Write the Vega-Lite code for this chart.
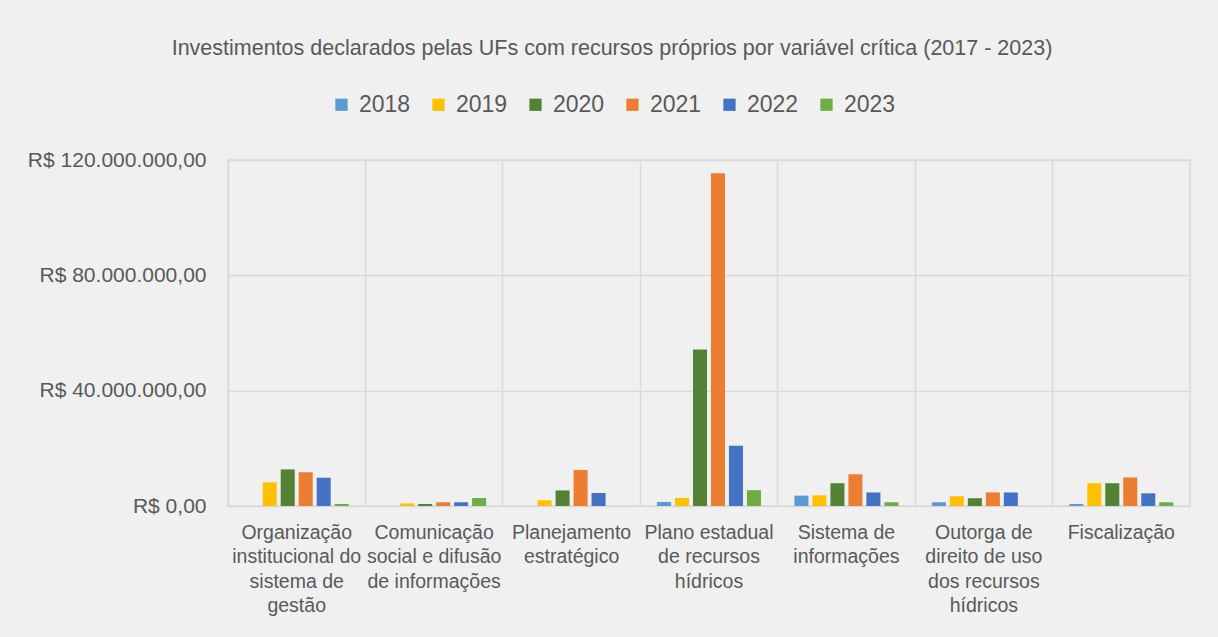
{
  "$schema": "https://vega.github.io/schema/vega-lite/v6.json",
  "autosize": "none",
  "width": 962,
  "height": 346,
  "padding": {"left": 228, "top": 160, "right": 28, "bottom": 131},
  "background": "#f0f0f0",
  "title": {
    "text": "Investimentos declarados pelas UFs com recursos próprios por variável crítica (2017 - 2023)",
    "font": "Liberation Sans",
    "fontSize": 21.5,
    "fontWeight": "normal",
    "color": "#595959",
    "anchor": "middle",
    "dx": -97,
    "offset": 34
  },
  "config": {
    "locale": {
      "number": {"decimal": ",", "thousands": ".", "grouping": [3], "currency": ["R$ ", ""]}
    },
    "view": {"stroke": "#d9d9d9", "strokeWidth": 1.5},
    "font": "Liberation Sans"
  },
  "data": {
    "values": [
      {"categoria": "Organização institucional do sistema de gestão", "ano": "2018", "valor": 0},
      {"categoria": "Organização institucional do sistema de gestão", "ano": "2019", "valor": 8200000},
      {"categoria": "Organização institucional do sistema de gestão", "ano": "2020", "valor": 12700000},
      {"categoria": "Organização institucional do sistema de gestão", "ano": "2021", "valor": 11700000},
      {"categoria": "Organização institucional do sistema de gestão", "ano": "2022", "valor": 9800000},
      {"categoria": "Organização institucional do sistema de gestão", "ano": "2023", "valor": 700000},
      {"categoria": "Comunicação social e difusão de informações", "ano": "2018", "valor": 0},
      {"categoria": "Comunicação social e difusão de informações", "ano": "2019", "valor": 900000},
      {"categoria": "Comunicação social e difusão de informações", "ano": "2020", "valor": 700000},
      {"categoria": "Comunicação social e difusão de informações", "ano": "2021", "valor": 1300000},
      {"categoria": "Comunicação social e difusão de informações", "ano": "2022", "valor": 1300000},
      {"categoria": "Comunicação social e difusão de informações", "ano": "2023", "valor": 2800000},
      {"categoria": "Planejamento estratégico", "ano": "2018", "valor": 0},
      {"categoria": "Planejamento estratégico", "ano": "2019", "valor": 2000000},
      {"categoria": "Planejamento estratégico", "ano": "2020", "valor": 5400000},
      {"categoria": "Planejamento estratégico", "ano": "2021", "valor": 12500000},
      {"categoria": "Planejamento estratégico", "ano": "2022", "valor": 4500000},
      {"categoria": "Planejamento estratégico", "ano": "2023", "valor": 0},
      {"categoria": "Plano estadual de recursos hídricos", "ano": "2018", "valor": 1400000},
      {"categoria": "Plano estadual de recursos hídricos", "ano": "2019", "valor": 2800000},
      {"categoria": "Plano estadual de recursos hídricos", "ano": "2020", "valor": 54300000},
      {"categoria": "Plano estadual de recursos hídricos", "ano": "2021", "valor": 115400000},
      {"categoria": "Plano estadual de recursos hídricos", "ano": "2022", "valor": 20900000},
      {"categoria": "Plano estadual de recursos hídricos", "ano": "2023", "valor": 5500000},
      {"categoria": "Sistema de informações", "ano": "2018", "valor": 3600000},
      {"categoria": "Sistema de informações", "ano": "2019", "valor": 3700000},
      {"categoria": "Sistema de informações", "ano": "2020", "valor": 7900000},
      {"categoria": "Sistema de informações", "ano": "2021", "valor": 11000000},
      {"categoria": "Sistema de informações", "ano": "2022", "valor": 4700000},
      {"categoria": "Sistema de informações", "ano": "2023", "valor": 1300000},
      {"categoria": "Outorga de direito de uso dos recursos hídricos", "ano": "2018", "valor": 1300000},
      {"categoria": "Outorga de direito de uso dos recursos hídricos", "ano": "2019", "valor": 3400000},
      {"categoria": "Outorga de direito de uso dos recursos hídricos", "ano": "2020", "valor": 2700000},
      {"categoria": "Outorga de direito de uso dos recursos hídricos", "ano": "2021", "valor": 4700000},
      {"categoria": "Outorga de direito de uso dos recursos hídricos", "ano": "2022", "valor": 4700000},
      {"categoria": "Outorga de direito de uso dos recursos hídricos", "ano": "2023", "valor": 0},
      {"categoria": "Fiscalização", "ano": "2018", "valor": 700000},
      {"categoria": "Fiscalização", "ano": "2019", "valor": 7900000},
      {"categoria": "Fiscalização", "ano": "2020", "valor": 7900000},
      {"categoria": "Fiscalização", "ano": "2021", "valor": 9900000},
      {"categoria": "Fiscalização", "ano": "2022", "valor": 4400000},
      {"categoria": "Fiscalização", "ano": "2023", "valor": 1300000}
    ]
  },
  "mark": {"type": "bar"},
  "encoding": {
    "x": {
      "field": "categoria",
      "type": "nominal",
      "sort": null,
      "scale": {"paddingInner": 0, "paddingOuter": 0},
      "axis": {
        "title": null,
        "labelAngle": 0,
        "domain": false,
        "ticks": false,
        "grid": true,
        "gridColor": "#d9d9d9",
        "gridWidth": 1.5,
        "bandPosition": 0,
        "labelPadding": 17,
        "labelFontSize": 19.5,
        "labelColor": "#595959",
        "labelLineHeight": 24.5,
        "labelBaseline": "top",
        "labelLimit": 200,
        "labelExpr": "{'Organização institucional do sistema de gestão': ['Organização', 'institucional do', 'sistema de', 'gestão'], 'Comunicação social e difusão de informações': ['Comunicação', 'social e difusão', 'de informações'], 'Planejamento estratégico': ['Planejamento', 'estratégico'], 'Plano estadual de recursos hídricos': ['Plano estadual', 'de recursos', 'hídricos'], 'Sistema de informações': ['Sistema de', 'informações'], 'Outorga de direito de uso dos recursos hídricos': ['Outorga de', 'direito de uso', 'dos recursos', 'hídricos'], 'Fiscalização': ['Fiscalização']}[datum.value]"
      }
    },
    "xOffset": {
      "field": "ano",
      "type": "nominal",
      "scale": {"paddingInner": 0.22, "paddingOuter": 0.93}
    },
    "y": {
      "field": "valor",
      "type": "quantitative",
      "scale": {"domain": [0, 120000000]},
      "axis": {
        "title": null,
        "values": [0, 40000000, 80000000, 120000000],
        "format": "$,.2f",
        "domain": false,
        "ticks": false,
        "gridColor": "#d9d9d9",
        "gridWidth": 1.5,
        "labelPadding": 22,
        "labelFontSize": 21,
        "labelColor": "#595959"
      }
    },
    "color": {
      "field": "ano",
      "type": "nominal",
      "scale": {
        "domain": ["2018", "2019", "2020", "2021", "2022", "2023"],
        "range": ["#5B9BD5", "#FFC000", "#548235", "#ED7D31", "#4472C4", "#70AD47"]
      },
      "legend": {
        "title": null,
        "orient": "none",
        "direction": "horizontal",
        "legendX": 102,
        "legendY": -67,
        "symbolType": "square",
        "symbolSize": 150,
        "symbolStrokeWidth": 0,
        "labelFontSize": 23,
        "labelColor": "#595959",
        "labelOffset": 6,
        "columnPadding": 16
      }
    }
  }
}
